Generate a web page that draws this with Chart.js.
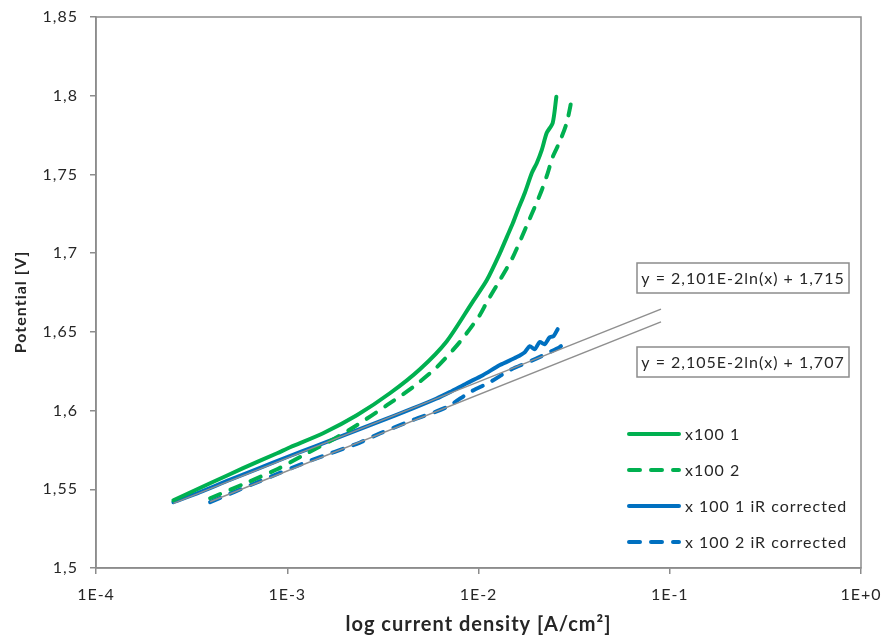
<!DOCTYPE html>
<html>
<head>
<meta charset="utf-8">
<script src="https://cdn.jsdelivr.net/npm/chart.js@4.4.1/dist/chart.umd.min.js"></script>
<style>
  html, body { margin: 0; padding: 0; background: #fff; }
  #wrap { width: 884px; height: 641px; }
</style>
</head>
<body>
<div id="wrap"><canvas id="pol" width="884" height="641"></canvas></div>
<script>
// polarisation curves, current density in A/cm2, potential in V
const x1001J = [2.54e-4, 3.95e-4, 5.88e-4, 8.85e-4, 1.035e-3, 1.54e-3, 2.31e-3, 3.44e-3, 4.94e-3, 6.83e-3, 9.23e-3,
  1.106e-2, 1.294e-2, 1.406e-2, 1.513e-2, 1.607e-2, 1.746e-2, 1.900e-2, 2.018e-2, 2.143e-2, 2.275e-2, 2.443e-2, 2.553e-2];
const x1001E = [1.5430, 1.5538, 1.5634, 1.5729, 1.5767, 1.5856, 1.5970, 1.6110, 1.6263, 1.6441, 1.6683,
  1.6829, 1.7000, 1.7102, 1.7191, 1.7274, 1.7382, 1.7509, 1.7573, 1.7656, 1.7764, 1.7827, 1.7994];

const x1002J = [3.95e-4, 5.88e-4, 8.85e-4, 1.27e-3, 1.67e-3, 2.31e-3, 3.32e-3, 4.54e-3, 6.06e-3, 7.98e-3, 1.016e-2,
  1.106e-2, 1.294e-2, 1.513e-2, 1.811e-2, 1.969e-2, 2.143e-2, 2.301e-2, 2.443e-2, 2.655e-2, 2.891e-2, 3.069e-2];
const x1002E = [1.5443, 1.5532, 1.5627, 1.5729, 1.5805, 1.5907, 1.6034, 1.6149, 1.6276, 1.6435, 1.6607,
  1.6689, 1.6829, 1.6975, 1.7191, 1.7293, 1.7401, 1.7509, 1.7611, 1.7706, 1.7827, 1.7974];

const x1001irJ = [2.54e-4, 3.5e-4, 5e-4, 7e-4, 1e-3, 1.4e-3, 2e-3, 3e-3, 4.5e-3, 6e-3, 7.08e-3, 8.69e-3,
  1.054e-2, 1.294e-2, 1.586e-2, 1.746e-2, 1.853e-2, 1.969e-2, 2.089e-2, 2.219e-2, 2.355e-2, 2.471e-2, 2.594e-2];
const x1001irE = [1.5418, 1.5482, 1.5560, 1.5630, 1.5705, 1.5772, 1.5845, 1.5928, 1.6012, 1.6075, 1.6117, 1.6174,
  1.6225, 1.6289, 1.6340, 1.6371, 1.6409, 1.6390, 1.6435, 1.6422, 1.6466, 1.6473, 1.6517];

const x1002irJ = [3.95e-4, 7.21e-4, 1.31e-3, 2.4e-3, 3.05e-3, 4.54e-3, 6.83e-3, 9.01e-3, 1.146e-2, 1.459e-2,
  1.923e-2, 2.355e-2, 2.655e-2, 2.818e-2, 2.891e-2];
const x1002irE = [1.5418, 1.5552, 1.5680, 1.5797, 1.5855, 1.5940, 1.6022, 1.6117, 1.6180, 1.6257,
  1.6320, 1.6371, 1.6403, 1.6428, 1.6447];

// log fits E = a*ln(j) + b on the iR corrected curves
const fitSlope = [2.101e-2, 2.105e-2];
const fitIntercept = [1.715, 1.707];
const fitFrom = [2.54e-4, 3.95e-4];
const fitTo = [0.09, 0.09];

const seriesLabels = ["x100 1", "x100 2", "x 100 1 iR corrected", "x 100 2 iR corrected"];
const xTickValues = [1e-4, 1e-3, 1e-2, 1e-1, 1];
const xTickLabels = ["1E-4", "1E-3", "1E-2", "1E-1", "1E+0"];

const GREEN = "#00b050";
const BLUE = "#0070c0";
const AXIS_GRAY = "#8c8c8c";
const TEXT = "#262626";
const FONT = "Lato, 'Open Sans', sans-serif";

const pts = (xs, ys) => xs.map((x, i) => ({ x, y: ys[i] }));
const comma = v => String(v).replace(".", ",");

function fitPoints(i) {
  return [fitFrom[i], fitTo[i]].map(x => ({ x, y: fitSlope[i] * Math.log(x) + fitIntercept[i] }));
}
function fitText(i) {
  return "y = " + comma(+(fitSlope[i] * 100).toFixed(3)) + "E-2ln(x) + " + comma(fitIntercept[i]);
}

function curve(label, data, color, dashed) {
  return {
    label, data,
    borderColor: color,
    backgroundColor: color,
    borderWidth: 4,
    borderDash: dashed ? [11, 11] : [],
    borderCapStyle: "round",
    borderJoinStyle: "round",
    pointRadius: 0,
    showLine: true,
    tension: 0.25
  };
}
function trend(i) {
  return {
    label: "", data: fitPoints(i),
    borderColor: "#8f8f8f", borderWidth: 1.5,
    pointRadius: 0, showLine: true, tension: 0
  };
}

// slightly looser text, closer to the office font
const spacing = {
  id: "spacing",
  beforeDraw(chart) { chart.ctx.letterSpacing = "1px"; }
};

// frame around the plot, y title, legend and fit equation boxes
const extras = {
  id: "extras",
  afterDraw(chart) {
    const { ctx, chartArea: a } = chart;
    ctx.save();
    ctx.strokeStyle = AXIS_GRAY;
    ctx.lineWidth = 1.5;
    ctx.strokeRect(a.left, a.top, a.right - a.left, a.bottom - a.top);

    // y axis title
    ctx.save();
    ctx.translate(21, 302);
    ctx.rotate(-Math.PI / 2);
    ctx.font = "bold 16px " + FONT;
    ctx.fillStyle = TEXT;
    ctx.textAlign = "center";
    ctx.textBaseline = "middle";
    ctx.fillText("Potential [V]", 0, 0);
    ctx.restore();

    // legend
    ctx.font = "16px " + FONT;
    ctx.textBaseline = "middle";
    ctx.textAlign = "left";
    const curves = chart.data.datasets.filter(d => d.label);
    curves.forEach((d, i) => {
      const y = 434 + i * 36;
      ctx.beginPath();
      ctx.strokeStyle = d.borderColor;
      ctx.lineWidth = d.borderWidth;
      ctx.lineCap = "round";
      ctx.setLineDash(d.borderDash);
      ctx.moveTo(629, y);
      ctx.lineTo(679, y);
      ctx.stroke();
      ctx.setLineDash([]);
      ctx.fillStyle = TEXT;
      ctx.fillText(d.label, 685, y + 1);
    });

    // fit equations
    [263, 347].forEach((top, i) => {
      ctx.fillStyle = "#fff";
      ctx.fillRect(637, top, 212, 30);
      ctx.strokeStyle = AXIS_GRAY;
      ctx.lineWidth = 1.5;
      ctx.strokeRect(637, top, 212, 30);
      ctx.fillStyle = TEXT;
      ctx.textAlign = "center";
      ctx.fillText(fitText(i), 743, top + 16);
    });
    ctx.restore();
  }
};

new Chart(document.getElementById("pol"), {
  type: "scatter",
  data: {
    datasets: [
      trend(0),
      trend(1),
      curve(seriesLabels[0], pts(x1001J, x1001E), GREEN, false),
      curve(seriesLabels[1], pts(x1002J, x1002E), GREEN, true),
      curve(seriesLabels[2], pts(x1001irJ, x1001irE), BLUE, false),
      curve(seriesLabels[3], pts(x1002irJ, x1002irE), BLUE, true)
    ]
  },
  options: {
    responsive: false,
    animation: false,
    layout: { padding: { top: 17, right: 23, left: 0, bottom: 0 } },
    plugins: { legend: { display: false }, tooltip: { enabled: false } },
    scales: {
      x: {
        type: "logarithmic",
        min: 1e-4, max: 1,
        afterBuildTicks: s => { s.ticks = xTickValues.map(v => ({ value: v })); },
        afterFit: s => { s.height = 73; s.paddingLeft = 0; s.paddingRight = 0; },
        ticks: {
          callback: v => xTickLabels[xTickValues.indexOf(v)],
          autoSkip: false, maxRotation: 0, padding: 11,
          color: TEXT, font: { family: FONT, size: 16 }
        },
        grid: { drawOnChartArea: false, tickLength: 6, color: AXIS_GRAY, lineWidth: 1.5 },
        border: { color: AXIS_GRAY, width: 1.5 },
        title: {
          display: true, text: "log current density [A/cm²]",
          color: TEXT, font: { family: FONT, size: 20, weight: "bold" }, padding: { bottom: 4 }
        }
      },
      y: {
        min: 1.5, max: 1.85,
        afterFit: s => { s.width = 96; s.paddingTop = 0; s.paddingBottom = 0; },
        ticks: {
          stepSize: 0.05, padding: 12,
          callback: v => comma(Math.round(v * 100) / 100),
          color: TEXT, font: { family: FONT, size: 16 }
        },
        grid: { drawOnChartArea: false, tickLength: 6, color: AXIS_GRAY, lineWidth: 1.5 },
        border: { color: AXIS_GRAY, width: 1.5 }
      }
    }
  },
  plugins: [spacing, extras]
});
</script>
</body>
</html>
